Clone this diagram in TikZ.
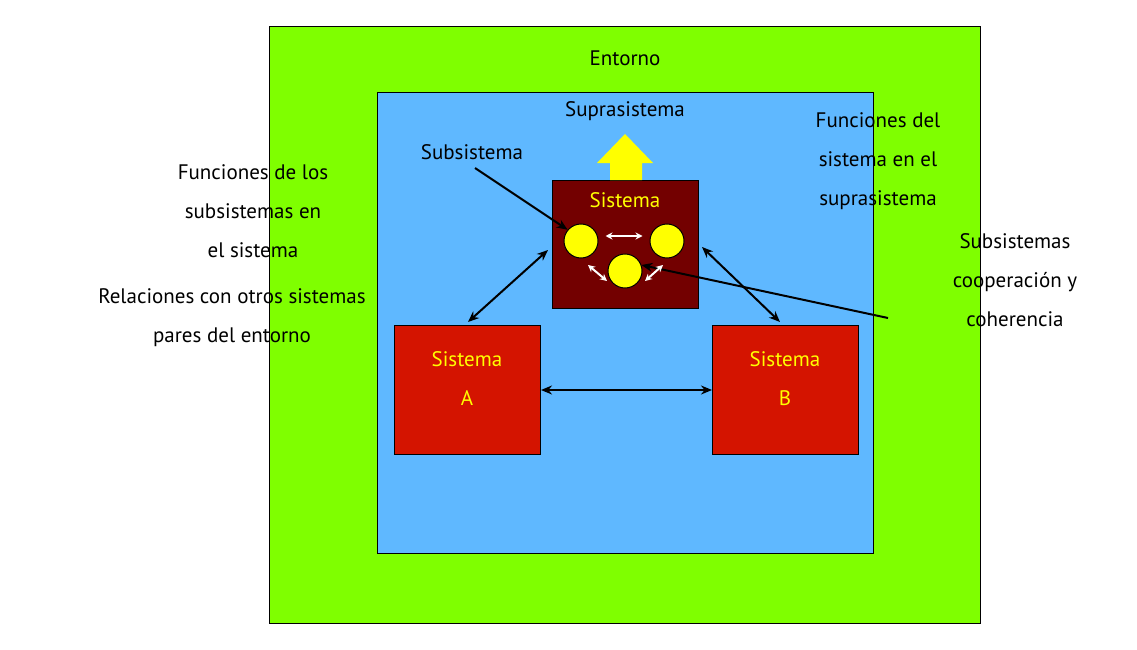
\documentclass[tikz,border=0pt]{standalone}
\usepackage{fontspec}
\setmainfont{PT Sans}
\usetikzlibrary{arrows.meta,calc}
\definecolor{envg}{HTML}{7FFF00}
\definecolor{supb}{HTML}{5FB8FF}
\definecolor{sysd}{HTML}{730000}
\definecolor{sysr}{HTML}{D41400}
\definecolor{yel}{HTML}{FFFF00}
\begin{document}
\begin{tikzpicture}[x=1pt,y=-1pt,
  lbl/.style={font=\fontsize{21}{39}\selectfont,align=center,inner sep=0pt},
  box/.style={draw=black,line width=1pt},
  blk/.style={-{Stealth[length=11pt,width=9pt]},line width=2pt},
  dbl/.style={{Stealth[length=11pt,width=9pt]}-{Stealth[length=11pt,width=9pt]},line width=2pt},
  wdbl/.style={{Stealth[length=7pt,width=7pt]}-{Stealth[length=7pt,width=7pt]},line width=2pt,white},
  circ/.style={circle,draw=black,line width=1pt,fill=yel,minimum size=34pt,inner sep=0pt}]
\useasboundingbox (0,0) rectangle (1137,650);
\fill[white] (0,0) rectangle (1137,650);
\node[box,fill=envg,minimum width=711pt,minimum height=597pt,anchor=north west] (env) at (269,26) {};
\node[box,fill=supb,minimum width=496pt,minimum height=461pt,anchor=north west] (sup) at (377,92) {};
\node[box,fill=sysd,minimum width=146pt,minimum height=128pt,anchor=north west] (sys) at (552,180) {};
\node[box,fill=sysr,minimum width=146pt,minimum height=129pt,anchor=north west] (sa) at (394,325) {};
\node[box,fill=sysr,minimum width=146pt,minimum height=129pt,anchor=north west] (sb) at (712,325) {};
\fill[yel] (610,180) -- (610,163) -- (597,163) -- (625,134) -- (653,163) -- (642,163) -- (642,180) -- cycle;
\node[circ] (c1) at (581,241) {};
\node[circ] (c2) at (667,241) {};
\node[circ] (c3) at (625,271) {};
\node[lbl] (tent) at (625,58) {Entorno};
\node[lbl] (tsup) at (625,111) {Suprasistema};
\node[lbl] (tsub) at (472,152) {Subsistema};
\node[lbl] (tfun) at (253,211) {Funciones de los\\subsistemas en\\el sistema};
\node[lbl] (trel) at (232,318) {Relaciones con otros sistemas\\pares del entorno};
\node[lbl] (tfs) at (878,161) {Funciones del\\sistema en el\\suprasistema};
\node[lbl] (tcoop) at (1015,280) {Subsistemas\\cooperación y\\coherencia};
\node[lbl,text=yel] (tsys) at (625,200) {Sistema};
\node[lbl,text=yel] (tsa) at (467,379) {Sistema\\A};
\node[lbl,text=yel] (tsb) at (785,379) {Sistema\\B};
\coordinate (s1) at (475,168);
\coordinate (k1) at (888,318);
\draw[blk] (s1) -- (c1.140);
\draw[blk] (k1) -- (c3.20);
\draw[dbl] (468,322) -- (548,250);
\draw[dbl] (702,247) -- (780,322);
\draw[dbl] (sa.east) -- (sb.west);
\draw[wdbl] ($(c1.east)+(7,-5)$) -- ($(c2.west)+(-7,-5)$);
\draw[wdbl] (588,265) -- (607,281);
\draw[wdbl] (645,281) -- (663,265);
\end{tikzpicture}
\end{document}
